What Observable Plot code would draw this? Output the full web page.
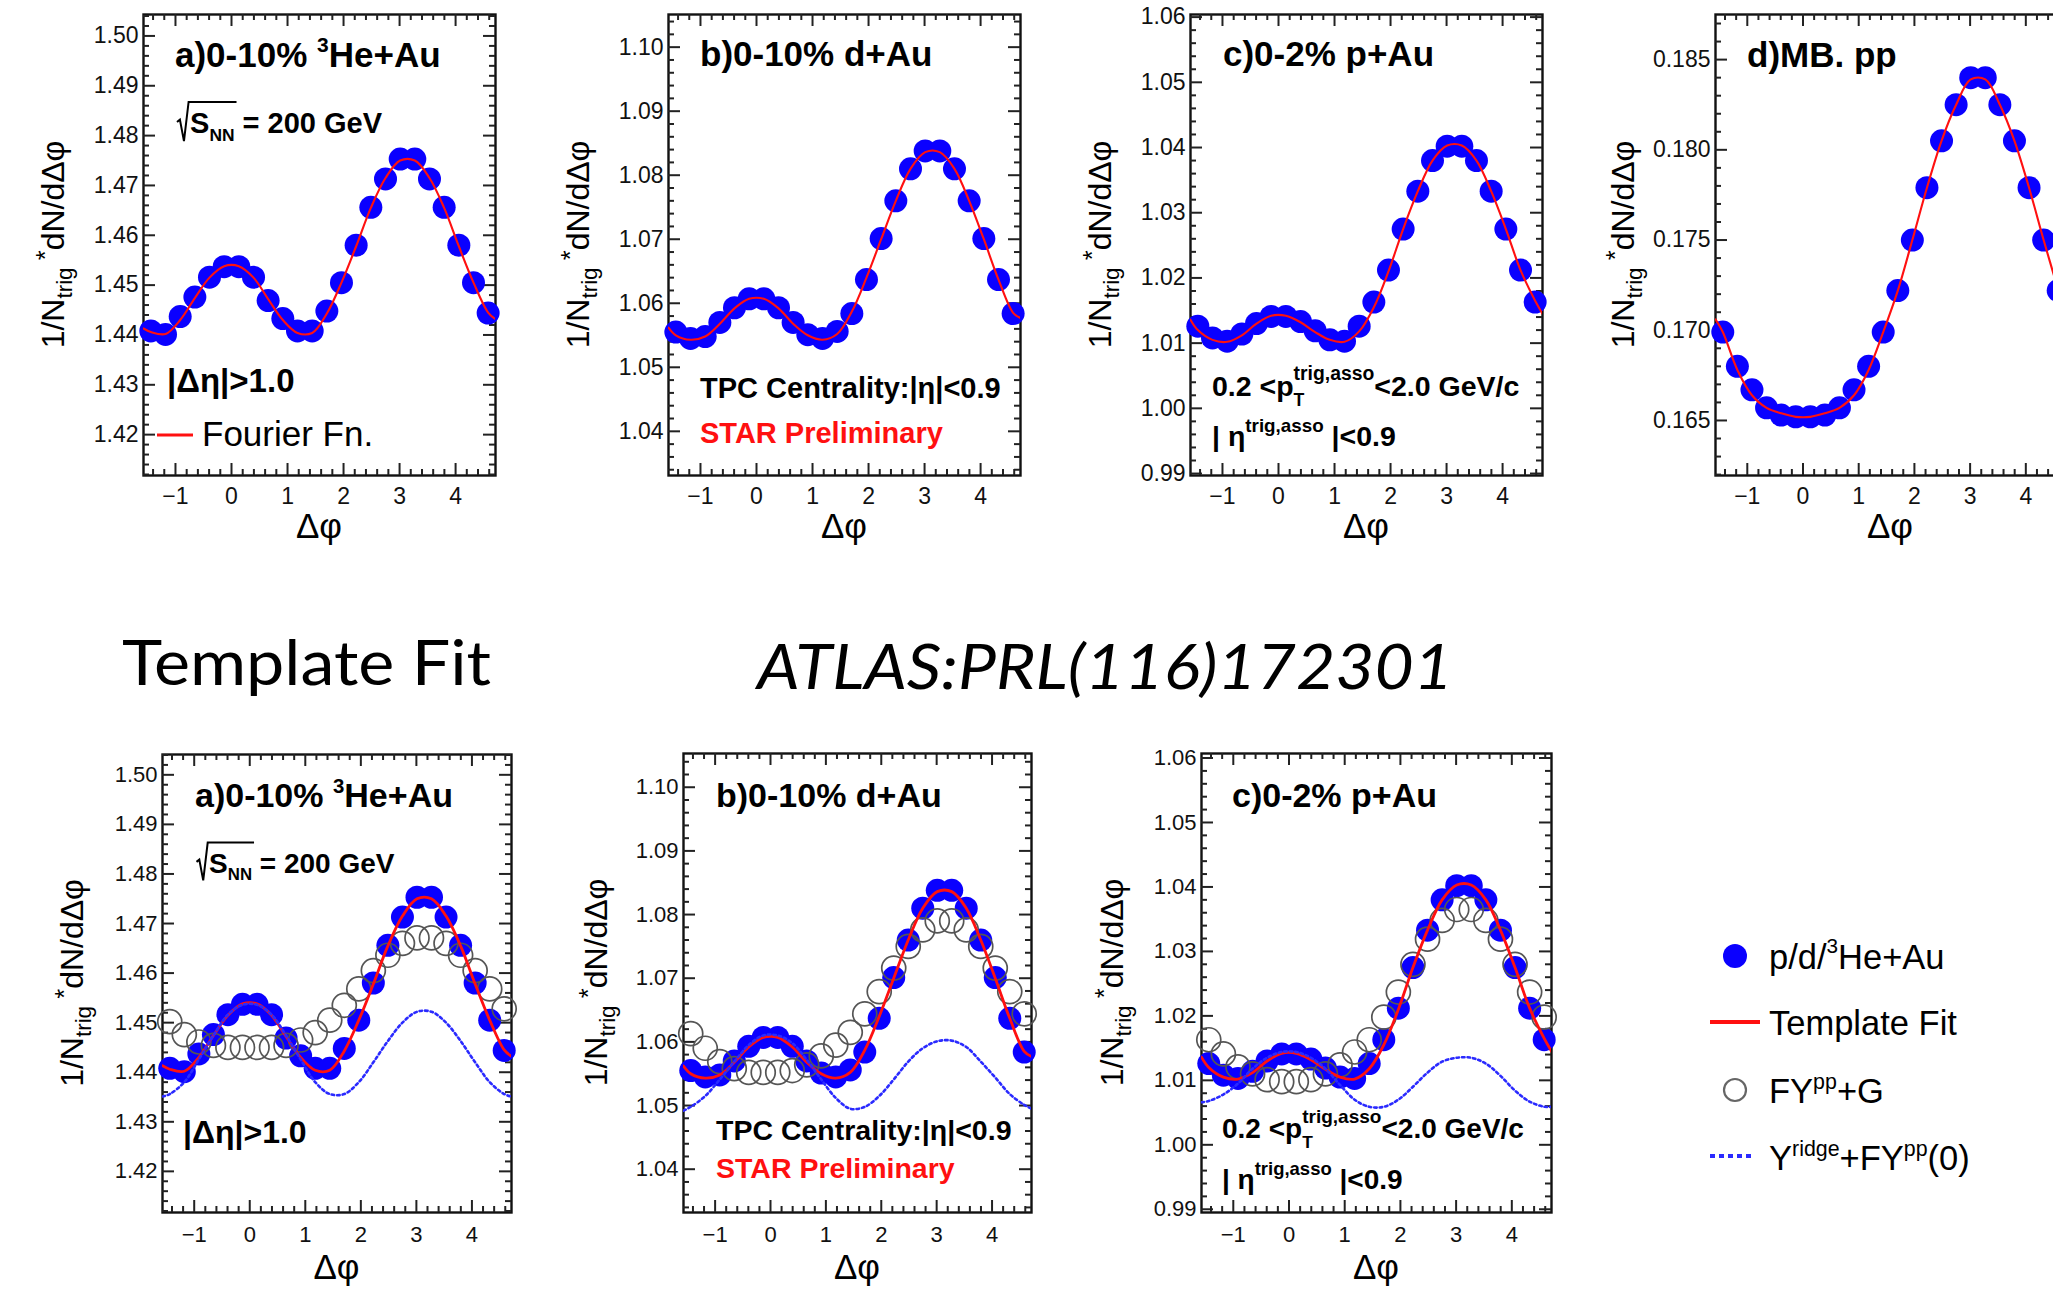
<!DOCTYPE html>
<html>
<head>
<meta charset="utf-8">
<script src="https://cdn.jsdelivr.net/npm/d3@7"></script>
<script src="https://cdn.jsdelivr.net/npm/@observablehq/plot@0.6"></script>
<style>
html, body { margin:0; padding:0; background:#fff; }
#page { position:relative; width:2053px; height:1303px; overflow:hidden; background:#fff; }
.panel { position:absolute; }
.panel svg { display:block; overflow:visible; max-width:none; }
</style>
</head>
<body>
<div id="page"></div>
<script>
// ---------------- data ----------------
const dphi = [-1.440,-1.178,-0.916,-0.654,-0.393,-0.131,0.131,0.393,0.654,0.916,1.178,1.440,1.702,1.963,2.225,2.487,2.749,3.011,3.272,3.534,3.796,4.058,4.320,4.581];
const fitDphi = [-1.571,-1.440,-1.178,-0.916,-0.654,-0.393,-0.131,0.131,0.393,0.654,0.916,1.178,1.440,1.702,1.963,2.225,2.487,2.749,3.011,3.272,3.534,3.796,4.058,4.320,4.581,4.712];

const xTicks = [-1,0,1,2,3,4];
const heAuTicks = [1.42,1.43,1.44,1.45,1.46,1.47,1.48,1.49,1.50];
const dAuTicks = [1.04,1.05,1.06,1.07,1.08,1.09,1.10];
const pAuTicks = [0.99,1.00,1.01,1.02,1.03,1.04,1.05,1.06];
const ppTicks = [0.165,0.170,0.175,0.180,0.185];

// data points p/d/3He+Au and pp
const heAu = [1.4408,1.4401,1.4437,1.4476,1.4516,1.4537,1.4537,1.4516,1.4469,1.4433,1.4408,1.4408,1.4448,1.4505,1.4580,1.4656,1.4713,1.4753,1.4753,1.4713,1.4656,1.4580,1.4505,1.4444];
const dAu = [1.0555,1.0545,1.0548,1.0570,1.0593,1.0607,1.0607,1.0593,1.0570,1.0551,1.0545,1.0556,1.0584,1.0637,1.0701,1.0760,1.0810,1.0838,1.0838,1.0810,1.0760,1.0701,1.0637,1.0584];
const pAu = [1.0126,1.0108,1.0103,1.0114,1.0130,1.0141,1.0141,1.0133,1.0119,1.0105,1.0103,1.0126,1.0163,1.0212,1.0275,1.0333,1.0380,1.0402,1.0402,1.0380,1.0333,1.0275,1.0212,1.0163];
const pp = [0.1699,0.1680,0.1667,0.1657,0.1653,0.1652,0.1652,0.1653,0.1657,0.1667,0.1680,0.1699,0.1722,0.1750,0.1779,0.1805,0.1825,0.1840,0.1840,0.1825,0.1805,0.1779,0.1750,0.1722];

// fit curves (Fourier fn. / template fit), read at fitDphi
const heAuFit = [1.4413,1.4406,1.4402,1.4430,1.4474,1.4515,1.4538,1.4538,1.4515,1.4472,1.4430,1.4404,1.4404,1.4443,1.4505,1.4578,1.4655,1.4715,1.4750,1.4750,1.4715,1.4655,1.4578,1.4505,1.4445,1.4432];
const dAuFit = [1.0562,1.0550,1.0543,1.0548,1.0568,1.0592,1.0607,1.0607,1.0592,1.0568,1.0550,1.0543,1.0552,1.0587,1.0640,1.0700,1.0760,1.0810,1.0836,1.0836,1.0810,1.0760,1.0700,1.0637,1.0585,1.0577];
const pAuFit = [1.0136,1.0120,1.0105,1.0102,1.0112,1.0130,1.0142,1.0142,1.0132,1.0117,1.0105,1.0102,1.0118,1.0155,1.0210,1.0275,1.0333,1.0380,1.0403,1.0403,1.0380,1.0333,1.0275,1.0212,1.0165,1.0145];
const ppFit = [0.1706,0.1699,0.1678,0.1664,0.1657,0.1654,0.1652,0.1652,0.1654,0.1657,0.1664,0.1678,0.1699,0.1722,0.1750,0.1779,0.1805,0.1825,0.1839,0.1839,0.1825,0.1805,0.1779,0.1750,0.1722,0.1706];

// FY^pp + G (open circles)
const heAuFYG = [1.4502,1.4476,1.4461,1.4454,1.4450,1.4450,1.4450,1.4450,1.4454,1.4465,1.4480,1.4505,1.4535,1.4568,1.4605,1.4636,1.4660,1.4671,1.4671,1.4660,1.4636,1.4605,1.4568,1.4528];
const dAuFYG = [1.0613,1.0590,1.0569,1.0558,1.0552,1.0552,1.0552,1.0555,1.0564,1.0578,1.0595,1.0615,1.0644,1.0679,1.0716,1.0750,1.0776,1.0790,1.0790,1.0776,1.0750,1.0716,1.0679,1.0644];
const pAuFYG = [1.0163,1.0141,1.0121,1.0110,1.0101,1.0098,1.0098,1.0101,1.0110,1.0124,1.0144,1.0163,1.0198,1.0237,1.0280,1.0319,1.0348,1.0365,1.0365,1.0348,1.0319,1.0280,1.0237,1.0198];

// Y^ridge + FY^pp(0) (dotted), read at fitDphi
const heAuRidge = [1.4351,1.4356,1.4380,1.4426,1.4474,1.4516,1.4536,1.4536,1.4516,1.4474,1.4426,1.4380,1.4356,1.4356,1.4380,1.4420,1.4463,1.4500,1.4522,1.4522,1.4500,1.4463,1.4420,1.4380,1.4356,1.4351];
const dAuRidge = [1.0492,1.0498,1.0515,1.0541,1.0569,1.0595,1.0610,1.0610,1.0598,1.0572,1.0541,1.0512,1.0495,1.0498,1.0515,1.0541,1.0569,1.0590,1.0601,1.0602,1.0592,1.0569,1.0544,1.0518,1.0501,1.0495];
const pAuRidge = [1.0066,1.0068,1.0078,1.0095,1.0118,1.0135,1.0144,1.0144,1.0135,1.0118,1.0093,1.0070,1.0059,1.0059,1.0070,1.0090,1.0112,1.0129,1.0135,1.0135,1.0126,1.0107,1.0084,1.0067,1.0059,1.0059];

// ---------------- helpers ----------------
const FONT = '"Liberation Sans", Arial, Helvetica, sans-serif';
const page = document.getElementById("page");
const xDomain = [-1.5708, 4.7124];
const intFmt = d3.format("d");

function pairs(xs, ys) { return ys.map((y, i) => ({x: xs[i], y})); }
function minorTicks([lo, hi], step, every) {
  const out = [];
  for (let k = Math.ceil(lo / step - 1e-9); k * step <= hi + 1e-12; k++) if (k % every !== 0) out.push(+(k * step).toFixed(6));
  return out;
}

function richText(g, x, y, parts, o = {}) {
  const size = o.size || 30;
  const t = g.append("text")
    .attr("x", x).attr("y", y)
    .attr("font-family", FONT)
    .attr("font-size", size)
    .attr("font-weight", o.weight || "bold")
    .attr("fill", o.fill || "#000")
    .attr("text-anchor", o.anchor || "start")
    .style("white-space", "pre");
  if (o.transform) t.attr("transform", o.transform);
  let shift = 0;
  for (const p of parts) {
    const sc = p.scale || 0.62;
    const target = p.sup ? -(p.up || 0.45) * size : p.sub ? (p.down || 0.25) * size : 0;
    const ts = t.append("tspan").text(p.t);
    if (p.sup || p.sub) ts.attr("font-size", size * sc);
    if (target !== shift) { ts.attr("dy", target - shift); shift = target; }
    if (p.dx) ts.attr("dx", p.dx);
  }
  return t;
}

// sqrt(s_NN) = 200 GeV with a drawn radical
function sqrtText(g, x0, b, s) {
  const tx = x0 + 0.45 * s;
  const t = richText(g, tx, b, [{t: "S"}, {t: "NN", sub: true, scale: 0.6, down: 0.28}, {t: " = 200 GeV"}], {size: s});
  let endX = tx + 2.2 * s;
  try { endX = tx + t.node().getSubStringLength(0, 3) + 2; } catch (e) {}
  g.append("path")
    .attr("d", `M${x0},${b - 0.38 * s} L${x0 + 0.1 * s},${b - 0.46 * s} L${x0 + 0.24 * s},${b + 0.28 * s} L${x0 + 0.4 * s},${b - 1.07 * s} L${endX},${b - 1.07 * s}`)
    .attr("fill", "none").attr("stroke", "#000").attr("stroke-width", 2);
}

const titleHe = [{t: "a)0-10% "}, {t: "3", sup: true, scale: 0.6, up: 0.42}, {t: "He+Au"}];
const titleD = [{t: "b)0-10% d+Au"}];
const titleP = [{t: "c)0-2% p+Au"}];
const titlePP = [{t: "d)MB. pp"}];
const detaCut = [{t: "|Δη|>1.0"}];
const tpcText = [{t: "TPC Centrality:|η|<0.9"}];
const starText = [{t: "STAR Preliminary"}];
function ptCut(s) { return [{t: "0.2 <p"}, {t: "T", sub: true, scale: 0.62, down: 0.35}, {t: "trig,asso", sup: true, scale: 0.68, up: 0.55, dx: -0.611 * s * 0.62}, {t: "<2.0 GeV/c"}]; }
const etaCut = [{t: "| η"}, {t: "trig,asso", sup: true, scale: 0.66, up: 0.5}, {t: " |<0.9"}];
const yLabelParts = [{t: "1/N"}, {t: "trig", sub: true, scale: 0.7, down: 0.28}, {t: " *", sup: true, scale: 0.8, up: 0.3}, {t: "dN/dΔφ"}];

function makePanel(c) {
  const mL = 112, mR = 14, mT = 14, mB = 90;
  const {fx, fy, fw, fh} = c;
  const xMinor = minorTicks(xDomain, 0.2, 5);
  const yMinor = minorTicks(c.yDomain, c.yStep, 5);
  const tk = {stroke: "#222", strokeWidth: 2};
  const Lmaj = 12, Lmin = 6;
  const marks = [
    Plot.frame({stroke: "#111", strokeWidth: 2.4}),
    Plot.tickX(xMinor, {x: d => d, insetTop: fh - Lmin, ...tk}),
    Plot.tickX(xMinor, {x: d => d, insetBottom: fh - Lmin, ...tk}),
    Plot.tickX(xTicks, {x: d => d, insetTop: fh - Lmaj, ...tk}),
    Plot.tickX(xTicks, {x: d => d, insetBottom: fh - Lmaj, ...tk}),
    Plot.tickY(yMinor, {y: d => d, insetRight: fw - Lmin, ...tk}),
    Plot.tickY(yMinor, {y: d => d, insetLeft: fw - Lmin, ...tk}),
    Plot.tickY(c.yTicks, {y: d => d, insetRight: fw - Lmaj, ...tk}),
    Plot.tickY(c.yTicks, {y: d => d, insetLeft: fw - Lmaj, ...tk}),
    Plot.axisX({ticks: xTicks, tickSize: 0, tickPadding: c.xPad, fontSize: c.tickFont, label: null, fill: "#111", tickFormat: intFmt}),
    Plot.axisY({ticks: c.yTicks, tickSize: 0, tickPadding: 5, fontSize: c.tickFont, label: null, tickFormat: d3.format(c.yFmt), fill: "#111"}),
    Plot.dot(pairs(dphi, c.pts), {x: "x", y: "y", r: c.r, fill: "#0a00ff", stroke: "none"})
  ];
  if (c.fyg) marks.push(Plot.dot(pairs(dphi, c.fyg), {x: "x", y: "y", r: c.r + 0.5, fill: "none", stroke: "#555", strokeWidth: 1.7}));
  marks.push(Plot.line(pairs(fitDphi, c.fit), {x: "x", y: "y", stroke: "#ff1010", strokeWidth: c.fyg ? 2.8 : 2.1, curve: "catmull-rom", clip: true}));
  if (c.ridge) marks.push(Plot.line(pairs(fitDphi, c.ridge), {x: "x", y: "y", stroke: "#2a2aff", strokeWidth: 2.6, strokeDasharray: "2.5,3", curve: "catmull-rom", clip: true}));

  const svg = Plot.plot({
    width: fw + mL + mR, height: fh + mT + mB,
    marginLeft: mL, marginRight: mR, marginTop: mT, marginBottom: mB,
    x: {domain: xDomain}, y: {domain: c.yDomain},
    style: {fontFamily: FONT, fontSize: c.tickFont + "px", color: "#000", background: "none", overflow: "visible"},
    marks
  });
  svg.style.maxWidth = "none";
  const wrap = document.createElement("div");
  wrap.className = "panel";
  wrap.style.left = (fx - mL) + "px";
  wrap.style.top = (fy - mT) + "px";
  wrap.style.width = (fw + mL + mR) + "px";
  wrap.style.height = (fh + mT + mB) + "px";
  wrap.appendChild(svg);
  page.appendChild(wrap);

  const g = d3.select(svg).append("g");
  const X = dx => mL + dx, Y = dy => mT + dy;
  const ys = c.yLabelSize;
  richText(g, 0, 0.36 * ys, yLabelParts, {size: ys, weight: "normal", anchor: "middle",
    transform: `translate(${mL - c.yLabelOff},${mT + fh / 2}) rotate(-90)`});
  richText(g, X(fw / 2), Y(fh + c.xLabelOff), [{t: "Δφ"}], {size: 35, weight: "normal", anchor: "middle"});
  for (const n of c.notes) {
    if (n.kind === "sqrt") sqrtText(g, X(n.dx), Y(n.dy), n.size);
    else if (n.kind === "legend") {
      g.append("line").attr("x1", X(n.dx)).attr("x2", X(n.dx + 36)).attr("y1", Y(n.dy - 11)).attr("y2", Y(n.dy - 11))
        .attr("stroke", "#ff1010").attr("stroke-width", 3);
      richText(g, X(n.dx + 45), Y(n.dy), [{t: n.text}], {size: n.size, weight: "normal"});
    }
    else richText(g, X(n.dx), Y(n.dy), n.parts, {size: n.size, fill: n.fill, weight: n.weight});
  }
}

// ---------------- panels ----------------
const topRow = {fy: 14, fh: 461, tickFont: 23, xPad: 12.5, xLabelOff: 63, yLabelOff: 91, yLabelSize: 32, r: 11.5};
const botRow = {fy: 753, fh: 459, tickFont: 22, xPad: 13.5, xLabelOff: 67, yLabelOff: 89, yLabelSize: 32, r: 11.5};

makePanel({...topRow, fx: 143, fw: 352, yDomain: [1.4118, 1.5043], yTicks: heAuTicks, yStep: 0.002, yFmt: ".2f",
  pts: heAu, fit: heAuFit,
  notes: [
    {dx: 32, dy: 53, size: 35, parts: titleHe},
    {kind: "sqrt", dx: 34, dy: 119, size: 29},
    {dx: 24, dy: 378, size: 33, parts: detaCut},
    {kind: "legend", dx: 14, dy: 432, size: 35, text: "Fourier Fn."}
  ]});
makePanel({...topRow, fx: 668, fw: 352, yDomain: [1.0331, 1.1051], yTicks: dAuTicks, yStep: 0.002, yFmt: ".2f",
  pts: dAu, fit: dAuFit,
  notes: [
    {dx: 32, dy: 52, size: 35, parts: titleD},
    {dx: 32, dy: 384, size: 29, parts: tpcText},
    {dx: 32, dy: 429, size: 29, parts: starText, fill: "#ff1010"}
  ]});
makePanel({...topRow, fx: 1190, fw: 352, yDomain: [0.9897, 1.0604], yTicks: pAuTicks, yStep: 0.002, yFmt: ".2f",
  pts: pAu, fit: pAuFit,
  notes: [
    {dx: 33, dy: 52, size: 35, parts: titleP},
    {dx: 22, dy: 382, size: 28.5, parts: ptCut(28.5)},
    {dx: 22, dy: 432, size: 28.5, parts: etaCut}
  ]});
makePanel({...topRow, fx: 1715, fw: 350, yDomain: [0.16195, 0.1875], yTicks: ppTicks, yStep: 0.001, yFmt: ".3f", yLabelOff: 93,
  pts: pp, fit: ppFit,
  notes: [
    {dx: 32, dy: 53, size: 35, parts: titlePP}
  ]});

makePanel({...botRow, fx: 162, fy: 754, fh: 458, fw: 349, yDomain: [1.4117, 1.5041], yTicks: heAuTicks, yStep: 0.002, yFmt: ".2f",
  pts: heAu, fit: heAuFit, fyg: heAuFYG, ridge: heAuRidge, yLabelOff: 91,
  notes: [
    {dx: 33, dy: 53, size: 34, parts: titleHe},
    {kind: "sqrt", dx: 34.5, dy: 118.5, size: 28},
    {dx: 21, dy: 389, size: 32, parts: detaCut}
  ]});
makePanel({...botRow, fx: 683, fw: 348, yDomain: [1.0332, 1.1053], yTicks: dAuTicks, yStep: 0.002, yFmt: ".2f",
  pts: dAu, fit: dAuFit, fyg: dAuFYG, ridge: dAuRidge, yLabelOff: 88,
  notes: [
    {dx: 33, dy: 54, size: 34, parts: titleD},
    {dx: 33, dy: 387, size: 28.5, parts: tpcText},
    {dx: 33, dy: 425, size: 28.5, parts: starText, fill: "#ff1010"}
  ]});
makePanel({...botRow, fx: 1201, fw: 350, yDomain: [0.9895, 1.0607], yTicks: pAuTicks, yStep: 0.002, yFmt: ".2f",
  pts: pAu, fit: pAuFit, fyg: pAuFYG, ridge: pAuRidge, yLabelOff: 90,
  notes: [
    {dx: 31, dy: 54, size: 34, parts: titleP},
    {dx: 21, dy: 385, size: 28, parts: ptCut(28)},
    {dx: 21, dy: 436, size: 28, parts: etaCut}
  ]});

// ---------------- page-level texts and legend ----------------
const ov = d3.select(page).append("svg")
  .attr("width", 2053).attr("height", 1303)
  .style("position", "absolute").style("left", "0px").style("top", "0px").style("pointer-events", "none");

ov.append("text").attr("x", 122).attr("y", 685)
  .attr("font-family", "Lato, 'Open Sans', sans-serif").attr("font-size", 62)
  .attr("textLength", 369).attr("lengthAdjust", "spacingAndGlyphs").attr("fill", "#000")
  .text("Template Fit");
ov.append("text").attr("x", 757).attr("y", 689)
  .attr("font-family", "Lato, 'Open Sans', sans-serif").attr("font-size", 62).attr("font-style", "italic")
  .attr("textLength", 696).attr("lengthAdjust", "spacingAndGlyphs").attr("fill", "#000")
  .text("ATLAS:PRL(116)172301");

ov.append("circle").attr("cx", 1735).attr("cy", 956).attr("r", 12).attr("fill", "#0a00ff");
richText(ov, 1769, 969, [{t: "p/d/"}, {t: "3", sup: true, scale: 0.6, up: 0.45}, {t: "He+Au"}], {size: 34.5, weight: "normal"});
ov.append("line").attr("x1", 1710).attr("x2", 1760).attr("y1", 1022).attr("y2", 1022).attr("stroke", "#ff1010").attr("stroke-width", 4);
richText(ov, 1769, 1035, [{t: "Template Fit"}], {size: 34.5, weight: "normal"});
ov.append("circle").attr("cx", 1735).attr("cy", 1090).attr("r", 11).attr("fill", "none").attr("stroke", "#666").attr("stroke-width", 2.2);
richText(ov, 1769, 1103, [{t: "FY"}, {t: "pp", sup: true, scale: 0.62, up: 0.42}, {t: "+G"}], {size: 34.5, weight: "normal"});
ov.append("line").attr("x1", 1710).attr("x2", 1755).attr("y1", 1156).attr("y2", 1156).attr("stroke", "#2a2aff").attr("stroke-width", 4).attr("stroke-dasharray", "5,4");
richText(ov, 1769, 1170, [{t: "Y"}, {t: "ridge", sup: true, scale: 0.62, up: 0.42}, {t: "+FY"}, {t: "pp", sup: true, scale: 0.62, up: 0.42}, {t: "(0)"}], {size: 34.5, weight: "normal"});
</script>
</body>
</html>
